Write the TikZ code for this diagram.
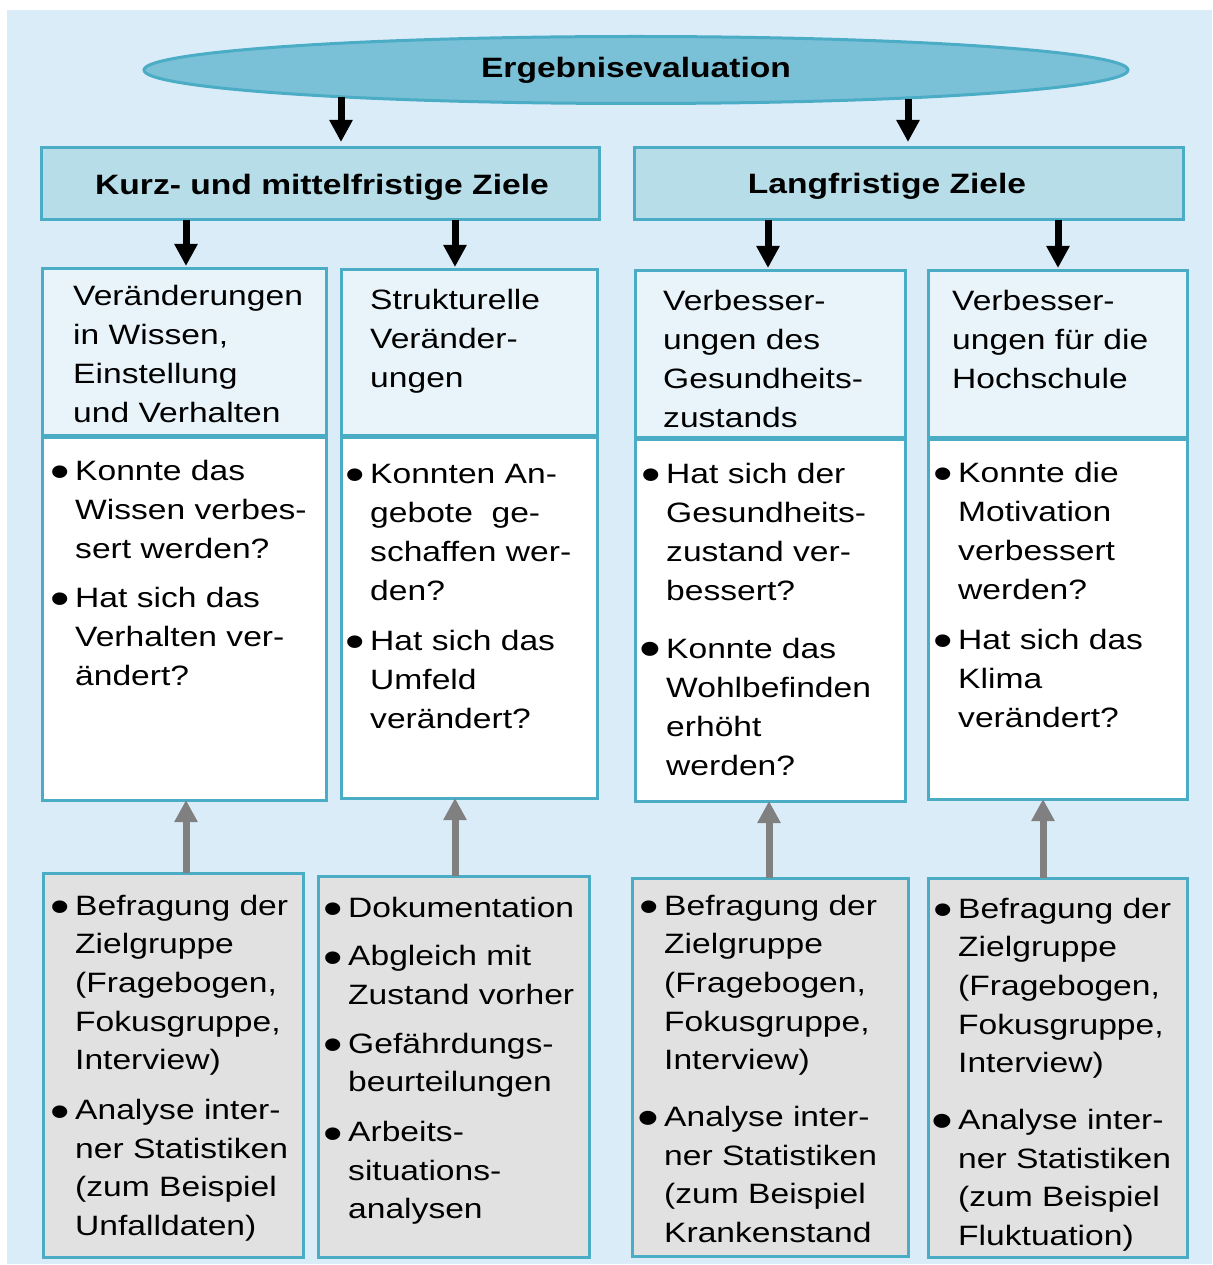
\documentclass[tikz,border=0pt]{standalone}
\usepackage{fontspec}
\setmainfont{Liberation Sans}[FakeStretch=1.2]
\usepackage{graphicx}
\usetikzlibrary{shapes.geometric,arrows.meta,calc}
\definecolor{bgc}{RGB}{219,236,249}
\definecolor{bc}{RGB}{75,172,198}
\definecolor{ellc}{RGB}{122,192,214}
\definecolor{hdc}{RGB}{183,221,232}
\definecolor{upc}{RGB}{232,244,249}
\definecolor{grc}{RGB}{225,225,225}
\definecolor{arrg}{RGB}{128,128,128}
\newcommand\bu{\makebox[24pt][l]{\hspace*{-1pt}\raisebox{-7.5pt}{\scalebox{1.65}{•}}}}
\newcommand\bU{\makebox[24pt][l]{\hspace*{-3pt}\raisebox{-8.5pt}{\scalebox{1.85}{•}}}}
\newcommand\ind{\hspace*{24pt}}
\tikzset{
  box/.style={draw=bc, line width=3pt, rectangle, inner sep=0pt, outer sep=0pt, anchor=north west},
  hdr/.style={box, fill=hdc},
  upbox/.style={box, fill=upc},
  qbox/.style={box, fill=white},
  mbox/.style={box, fill=grc},
  txt/.style={inner sep=0pt, anchor=north west, align=left, font=\fontsize{28}{39}\selectfont},
  btxt/.style={txt, font=\fontsize{28}{38.7}\selectfont},
  htxt/.style={inner sep=0pt, anchor=base, font=\bfseries\fontsize{28}{39}\selectfont},
  barr/.style={line width=7pt, -{Triangle[width=22pt,length=22pt]}, black},
  garr/.style={line width=7pt, -{Triangle[width=22pt,length=22pt]}, arrg},
  divl/.style={line width=5pt, draw=bc}
}
\begin{document}
\begin{tikzpicture}[x=1pt,y=-1pt]
\useasboundingbox (0,0) rectangle (1212,1265);
\fill[bgc] (7,10) rectangle (1212,1264);

% top ellipse
\node[ellipse, draw=bc, line width=3pt, fill=ellc, minimum width=984pt, minimum height=67pt, inner sep=0pt,
      font=\bfseries\fontsize{28}{39}\selectfont] (ell) at (636,70) {Ergebnisevaluation};

% headers
\node[hdr, minimum width=558pt, minimum height=72pt] (hL) at (41,148) {};
\node[hdr, minimum width=549pt, minimum height=72pt] (hR) at (634,148) {};
\node[htxt] (thL) at (322,195) {Kurz- und mittelfristige Ziele};
\node[htxt] (thR) at (887,194) {Langfristige Ziele};

% question boxes (white)
\node[qbox, minimum width=284pt, minimum height=364pt] (q1) at (42,436) {};
\node[qbox, minimum width=256pt, minimum height=362pt] (q2) at (341,436) {};
\node[qbox, minimum width=270pt, minimum height=363pt] (q3) at (635,438) {};
\node[qbox, minimum width=259pt, minimum height=361pt] (q4) at (928,438) {};
% goal boxes (light)
\node[upbox, minimum width=284pt, minimum height=168pt] (u1) at (42,268) {};
\node[upbox, minimum width=256pt, minimum height=167pt] (u2) at (341,269) {};
\node[upbox, minimum width=270pt, minimum height=168pt] (u3) at (635,270) {};
\node[upbox, minimum width=259pt, minimum height=168pt] (u4) at (928,270) {};
\draw[divl] (u1.south west) -- (u1.south east);
\draw[divl] (u2.south west) -- (u2.south east);
\draw[divl] (u3.south west) -- (u3.south east);
\draw[divl] (u4.south west) -- (u4.south east);

% method boxes (grey)
\node[mbox, minimum width=260pt, minimum height=384pt] (b1) at (43,873) {};
\node[mbox, minimum width=271pt, minimum height=381pt] (b2) at (318,876) {};
\node[mbox, minimum width=276pt, minimum height=378pt] (b3) at (632,878) {};
\node[mbox, minimum width=259pt, minimum height=379pt] (b4) at (928,878) {};

% goal texts
\node[txt] (tu1) at (73,277.7) {\strut Veränderungen\\in Wissen,\\Einstellung\\und Verhalten};
\node[txt] (tu2) at (370,281.7) {\strut Strukturelle\\Veränder-\\ungen};
\node[txt] (tu3) at (663,282.7) {\strut Verbesser-\\ungen des\\Gesundheits-\\zustands};
\node[txt] (tu4) at (952,282.7) {\strut Verbesser-\\ungen für die\\Hochschule};

% question texts
\node[txt] (tq1) at (51,452.7) {\strut\bu Konnte das\\\ind Wissen verbes-\\\ind sert werden?\\[10pt]\bu Hat sich das\\\ind Verhalten ver-\\\ind ändert?};
\node[txt] (tq2) at (346,455.7) {\strut\bu Konnten An-\\\ind gebote\ \ ge-\\\ind schaffen wer-\\\ind den?\\[11pt]\bu Hat sich das\\\ind Umfeld\\\ind verändert?};
\node[txt] (tq3) at (642,455.7) {\strut\bu Hat sich der\\\ind Gesundheits-\\\ind zustand ver-\\\ind bessert?\\[19pt]\bU Konnte das\\\ind Wohlbefinden\\\ind erhöht\\\ind werden?};
\node[txt] (tq4) at (934,454.7) {\strut\bu Konnte die\\\ind Motivation\\\ind verbessert\\\ind werden?\\[11pt]\bu Hat sich das\\\ind Klima\\\ind verändert?};

% method texts
\node[btxt] (tb1) at (51,887.7) {\strut\bu Befragung der\\\ind Zielgruppe\\\ind (Fragebogen,\\\ind Fokusgruppe,\\\ind Interview)\\[11pt]\bu Analyse inter-\\\ind ner Statistiken\\\ind (zum Beispiel\\\ind Unfalldaten)};
\node[btxt] (tb2) at (324,889.7) {\strut\bu Dokumentation\\[10pt]\bu Abgleich mit\\\ind Zustand vorher\\[10pt]\bu Gefährdungs-\\\ind beurteilungen\\[11pt]\bu Arbeits-\\\ind situations-\\\ind analysen};
\node[btxt] (tb3) at (640,887.7) {\strut\bu Befragung der\\\ind Zielgruppe\\\ind (Fragebogen,\\\ind Fokusgruppe,\\\ind Interview)\\[18pt]\bU Analyse inter-\\\ind ner Statistiken\\\ind (zum Beispiel\\\ind Krankenstand};
\node[btxt] (tb4) at (934,890.7) {\strut\bu Befragung der\\\ind Zielgruppe\\\ind (Fragebogen,\\\ind Fokusgruppe,\\\ind Interview)\\[18pt]\bU Analyse inter-\\\ind ner Statistiken\\\ind (zum Beispiel\\\ind Fluktuation)};

% arrow tips
\coordinate (c1) at (341,142);
\coordinate (c2) at (908,142);
\coordinate (c3) at (186,266);
\coordinate (c4) at (455,267);
\coordinate (c5) at (768,268);
\coordinate (c6) at (1058,268);
\coordinate (g1) at (186,800);
\coordinate (g2) at (455,798);
\coordinate (g3) at (769,801);
\coordinate (g4) at (1043,799);

\draw[barr] (ell.185 -| c1) -- (c1);
\draw[barr] (ell.354 -| c2) -- (c2);
\draw[barr] (hL.south -| c3) -- (c3);
\draw[barr] (hL.south -| c4) -- (c4);
\draw[barr] (hR.south -| c5) -- (c5);
\draw[barr] (hR.south -| c6) -- (c6);
\draw[garr] (b1.north -| g1) -- (g1);
\draw[garr] (b2.north -| g2) -- (g2);
\draw[garr] (b3.north -| g3) -- (g3);
\draw[garr] (b4.north -| g4) -- (g4);
\end{tikzpicture}
\end{document}
